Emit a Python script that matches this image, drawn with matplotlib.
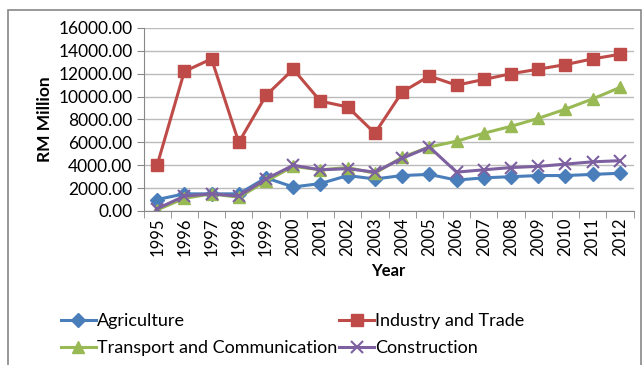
import matplotlib.pyplot as plt
import matplotlib.patches as patches
from matplotlib.ticker import FixedLocator

plt.rcParams['font.family'] = ['Lato', 'DejaVu Sans']

years = ['1995', '1996', '1997', '1998', '1999', '2000', '2001', '2002', '2003',
         '2004', '2005', '2006', '2007', '2008', '2009', '2010', '2011', '2012']

agriculture = [1000, 1500, 1500, 1500, 2900, 2100, 2400, 3100, 2800,
               3100, 3200, 2700, 2900, 3000, 3100, 3100, 3200, 3300]
industry = [4000, 12200, 13300, 6000, 10100, 12400, 9600, 9100, 6800,
            10400, 11800, 11000, 11500, 12000, 12400, 12800, 13300, 13700]
transport = [100, 1100, 1500, 1200, 2600, 3900, 3600, 3800, 3300,
             4700, 5600, 6100, 6800, 7400, 8100, 8900, 9800, 10800]
construction = [200, 1300, 1500, 1300, 2800, 4000, 3600, 3700, 3400,
                4600, 5600, 3400, 3600, 3800, 3900, 4100, 4300, 4400]

fig = plt.figure(figsize=(6.44, 3.65), dpi=100)
ax = fig.add_axes([143.5 / 644, 1 - 211 / 365, (633.5 - 143.5) / 644, (211 - 28) / 365])

x = list(range(len(years)))
l1, = ax.plot(x, agriculture, color='#4A7EBB', lw=2.2, marker='D', ms=7, label='Agriculture')
l2, = ax.plot(x, industry, color='#BE4B48', lw=2.2, marker='s', ms=9, label='Industry and Trade')
l3, = ax.plot(x, transport, color='#98B954', lw=2.2, marker='^', ms=9, label='Transport and Communication')
l4, = ax.plot(x, construction, color='#7D60A0', lw=2.2, marker='x', ms=9, mew=1.5, label='Construction')

ax.set_xlim(-0.5, len(years) - 0.5)
ax.set_ylim(0, 16000)
ax.set_yticks(range(0, 16001, 2000))
ax.set_yticklabels([f'{v:.2f}' for v in range(0, 16001, 2000)], fontsize=12.5)
ax.set_xticks(x)
ax.set_xticklabels(years, rotation=90, fontsize=12)
ax.xaxis.set_minor_locator(FixedLocator([i - 0.5 for i in range(len(years) + 1)]))
ax.tick_params(axis='x', which='major', length=0, pad=5)
ax.tick_params(axis='x', which='minor', length=5, color='#888888')
ax.tick_params(axis='y', length=5, color='#888888', pad=3)

ax.grid(axis='y', color='#BBBBBB', lw=1)
ax.set_axisbelow(True)
for s in ['top', 'right']:
    ax.spines[s].set_visible(False)
ax.spines['left'].set_color('#888888')
ax.spines['bottom'].set_color('#888888')

ax.set_xlabel('Year', fontsize=12, fontweight='bold', labelpad=5)
ax.set_ylabel('RM Million', fontsize=12.5, fontweight='bold', labelpad=4)

fig.legend([l1, l3, l2, l4], [l.get_label() for l in [l1, l3, l2, l4]],
           loc='upper left', bbox_to_anchor=(54 / 644, 1 - 306 / 365), ncol=2,
           frameon=False, fontsize=13, handlelength=1.9, handletextpad=0.1,
           columnspacing=0.1, labelspacing=0.6, borderaxespad=0)

fig.add_artist(patches.Rectangle((8 / 644, -0.1), 633 / 644, 1.1 - 10 / 365,
                                 transform=fig.transFigure, fill=False,
                                 edgecolor='#888888', lw=1.2, clip_on=False))

fig.savefig('out.png', dpi=100)
